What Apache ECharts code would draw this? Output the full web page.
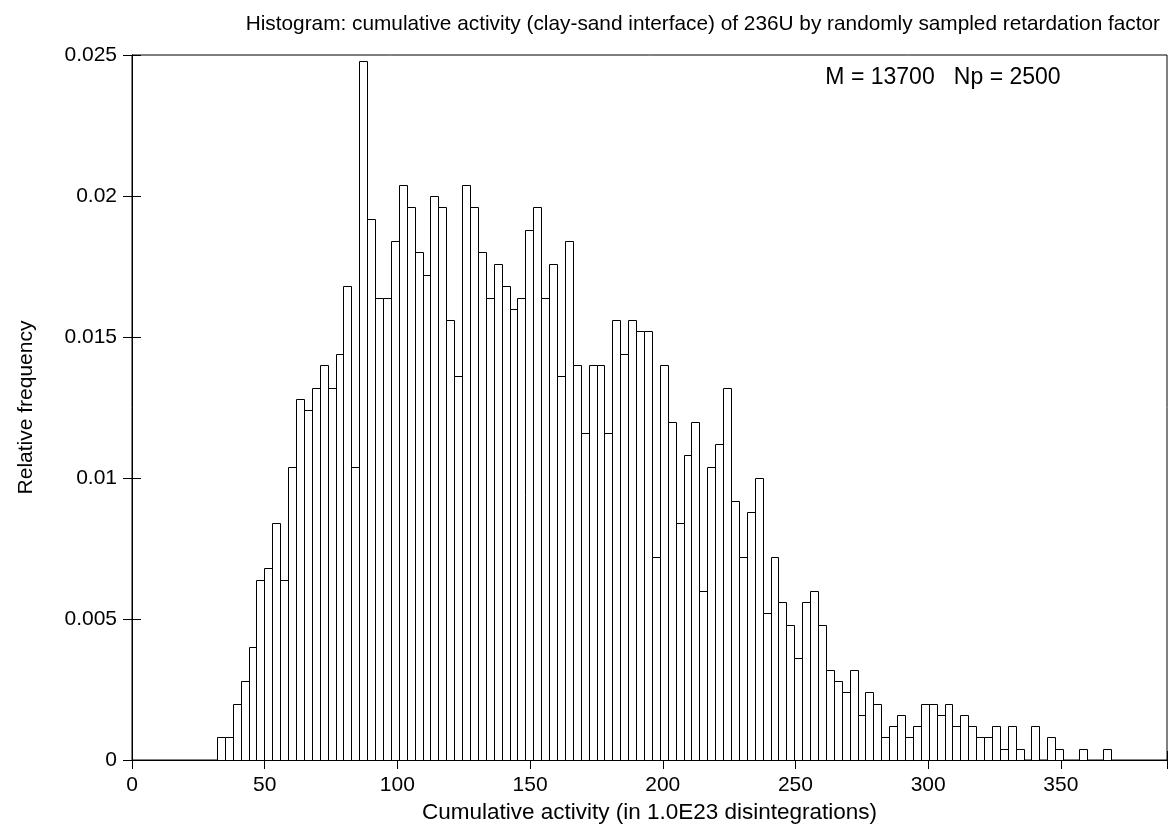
<!DOCTYPE html>
<html>
<head>
<meta charset="utf-8">
<script src="https://cdn.jsdelivr.net/npm/echarts@6/dist/echarts.min.js"></script>
<style>
  html, body { margin: 0; padding: 0; background: #ffffff; }
  #chart { width: 1173px; height: 834px; }
</style>
</head>
<body>
<div id="chart"></div>
<script>
// Histogram bins: left edge of the first bin and the common bin width
const BIN_START = 32.0;
const BIN_WIDTH = 2.98;

// Relative frequency per bin (Np = 2500, so one sample = 0.0004)
const freq = [
  0.0008, 0.0008, 0.0020, 0.0028, 0.0040, 0.0064, 0.0068, 0.0084, 0.0064, 0.0104,
  0.0128, 0.0124, 0.0132, 0.0140, 0.0132, 0.0144, 0.0168, 0.0104, 0.0248, 0.0192,
  0.0164, 0.0164, 0.0184, 0.0204, 0.0196, 0.0180, 0.0172, 0.0200, 0.0196, 0.0156,
  0.0136, 0.0204, 0.0196, 0.0180, 0.0164, 0.0176, 0.0168, 0.0160, 0.0164, 0.0188,
  0.0196, 0.0164, 0.0176, 0.0136, 0.0184, 0.0140, 0.0116, 0.0140, 0.0140, 0.0116,
  0.0156, 0.0144, 0.0156, 0.0152, 0.0152, 0.0072, 0.0140, 0.0120, 0.0084, 0.0108,
  0.0120, 0.0060, 0.0104, 0.0112, 0.0132, 0.0092, 0.0072, 0.0088, 0.0100, 0.0052,
  0.0072, 0.0056, 0.0048, 0.0036, 0.0056, 0.0060, 0.0048, 0.0032, 0.0028, 0.0024,
  0.0032, 0.0016, 0.0024, 0.0020, 0.0008, 0.0012, 0.0016, 0.0008, 0.0012, 0.0020,
  0.0020, 0.0016, 0.0020, 0.0012, 0.0016, 0.0012, 0.0008, 0.0008, 0.0012, 0.0004,
  0.0012, 0.0004, 0.0000, 0.0012, 0.0000, 0.0008, 0.0004, 0.0000, 0.0000, 0.0004,
  0.0000, 0.0000, 0.0004
];

// Axis ticks
const xTicks = { min: 0, max: 390, interval: 50 };
const yTicks = { min: 0, max: 0.025, interval: 0.005 };

const titleText = 'Histogram: cumulative activity (clay-sand interface) of 236U by randomly sampled retardation factor';
const noteText = 'M = 13700   Np = 2500';
const xName = 'Cumulative activity (in 1.0E23 disintegrations)';
const yName = 'Relative frequency';

const FONT = '"Liberation Sans", Arial, Helvetica, sans-serif';
const FS = 21;

const bins = freq.map((f, i) => [BIN_START + i * BIN_WIDTH, BIN_START + (i + 1) * BIN_WIDTH, f]);

const chart = echarts.init(document.getElementById('chart'), null, { renderer: 'canvas' });

const axisLine = { show: true, lineStyle: { color: '#000', width: 1 } };
const tickIn = { show: true, inside: true, length: 9, lineStyle: { color: '#000', width: 1 } };

chart.setOption({
  animation: false,
  backgroundColor: '#ffffff',
  textStyle: { fontFamily: FONT },
  title: {
    text: titleText,
    right: 8,
    top: 9,
    textStyle: { fontFamily: FONT, fontSize: 20.8, fontWeight: 'normal', color: '#000' }
  },
  grid: { left: 132, right: 6, top: 55, bottom: 74, show: true, borderColor: '#000', borderWidth: 1 },
  xAxis: [
    {
      type: 'value', min: xTicks.min, max: xTicks.max, interval: xTicks.interval,
      position: 'bottom',
      name: xName, nameLocation: 'middle', nameGap: 38,
      nameTextStyle: { fontFamily: FONT, fontSize: 22.5, color: '#000' },
      axisLine: axisLine, axisTick: tickIn,
      axisLabel: {
        fontFamily: FONT, fontSize: FS, color: '#000', margin: 15,
        formatter: v => (v % 50 === 0 && v <= 350) ? String(v) : ''
      },
      splitLine: { show: false }
    },
    {
      type: 'value', min: xTicks.min, max: xTicks.max, interval: xTicks.interval,
      position: 'top',
      axisLine: axisLine, axisTick: tickIn, axisLabel: { show: false }, splitLine: { show: false }
    }
  ],
  yAxis: [
    {
      type: 'value', min: yTicks.min, max: yTicks.max, interval: yTicks.interval,
      position: 'left',
      name: yName, nameLocation: 'middle', nameGap: 95, nameRotate: 90,
      nameTextStyle: { fontFamily: FONT, fontSize: FS, color: '#000' },
      axisLine: axisLine, axisTick: tickIn,
      axisLabel: { fontFamily: FONT, fontSize: FS, color: '#000', margin: 15 },
      splitLine: { show: false }
    },
    {
      type: 'value', min: yTicks.min, max: yTicks.max, interval: yTicks.interval,
      position: 'right',
      axisLine: axisLine, axisTick: tickIn, axisLabel: { show: false }, splitLine: { show: false }
    }
  ],
  graphic: [
    {
      type: 'text', x: 943, y: 78,
      style: { text: noteText, font: '23px ' + FONT, fill: '#000', align: 'center', verticalAlign: 'middle' }
    }
  ],
  series: [
    {
      type: 'custom',
      xAxisIndex: 0, yAxisIndex: 0,
      clip: true,
      data: bins,
      renderItem: function (params, api) {
        const h = api.value(2);
        if (h <= 0) return null;
        const p0 = api.coord([api.value(0), h]);
        const p1 = api.coord([api.value(1), 0]);
        return {
          type: 'rect',
          shape: { x: Math.round(p0[0]) + 0.5, y: Math.round(p0[1]) + 0.5,
                   width: Math.round(p1[0]) - Math.round(p0[0]),
                   height: Math.round(p1[1]) - Math.round(p0[1]) },
          style: { fill: '#ffffff', stroke: '#000', lineWidth: 1 }
        };
      }
    }
  ]
});
</script>
</body>
</html>
